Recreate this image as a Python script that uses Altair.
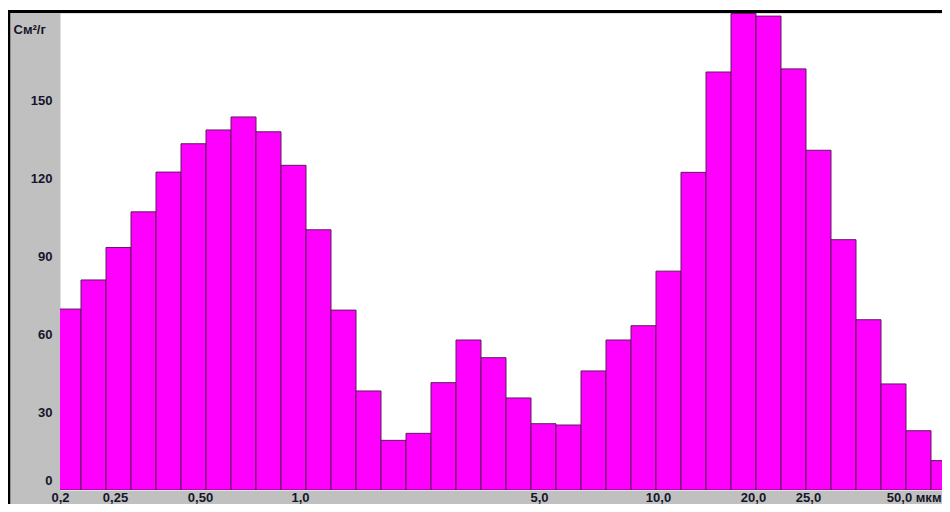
import altair as alt
import pandas as pd

# Bar heights (См²/г), one per size class, left to right
values = [69.6, 80.8, 93.3, 107.0, 122.3, 133.2, 138.5, 143.5, 137.8, 124.9, 100.1, 69.2,
          38.1, 19.1, 21.8, 41.3, 57.7, 50.9, 35.4, 25.5, 25.0, 45.8, 57.7, 63.2,
          84.2, 122.2, 160.8, 183.3, 182.3, 162.0, 130.7, 96.3, 65.5, 40.8, 22.8, 11.3]

# x-axis tick labels (particle size) and where they sit, in size-class units
x_tick_labels = ["0,2", "0,25", "0,50", "1,0", "5,0", "10,0", "20,0", "25,0", "50,0 мкм"]
x_tick_pos = [0.16, 2.36, 5.76, 9.76, 19.32, 24.08, 27.88, 30.08, 35.40]

y_tick_values = [0, 30, 60, 90, 120, 150]
y_unit = "См²/г"

df = pd.DataFrame({
    "start": list(range(len(values))),
    "end": [i + 1 for i in range(len(values))],
    "value": values,
})

label_expr = " : ".join(
    f"datum.value == {p} ? '{l}'" for p, l in zip(x_tick_pos, x_tick_labels)
) + " : ''"

FONT = "Liberation Sans"
TXT = "#15152a"
W, H = 882, 477
PB = 14
X0 = 0.16

x_axis = alt.Axis(
    values=x_tick_pos, labelExpr=label_expr, title=None, domain=False, ticks=False,
    tickSize=0, grid=False, labelPadding=1, labelFont=FONT, labelFontSize=13,
    labelFontWeight="bold", labelColor=TXT, labelOverlap=False, labelFlush=False,
    labelAlign={"condition": {"test": "datum.value > 33", "value": "right"}, "value": "center"},
)
y_axis = alt.Axis(
    values=y_tick_values, title=y_unit, titleAngle=0, titleAlign="left",
    titleBaseline="middle", titleX=-47, titleY=16, titleFont=FONT, titleFontSize=13,
    titleFontWeight="bold", titleColor=TXT, domain=False, ticks=False, tickSize=0,
    grid=False, labelPadding=8, labelFont=FONT, labelFontSize=13, labelFontWeight="bold",
    labelColor=TXT, labelBaseline="middle", labelOverlap=False, labelFlush=False,
    labelOffset={"condition": {"test": "datum.value == 0", "value": -10}, "value": 0},
)

bars = alt.Chart(df).mark_bar(
    color="#ff00ff", stroke="#5c1a5c", strokeWidth=1, clip=True
).encode(
    x=alt.X("start:Q", scale=alt.Scale(domain=[X0, X0 + W / 25], nice=False, zero=False), axis=x_axis),
    x2="end:Q",
    y=alt.Y("value:Q", scale=alt.Scale(domain=[0, 183.5], nice=False), axis=y_axis),
    y2=alt.datum(0),
)

one = pd.DataFrame({"a": [0]})
white_top = alt.Chart(one).mark_rule(color="white", strokeWidth=2).encode(
    x=alt.value(-52), x2=alt.value(W), y=alt.value(-4))
top_line = alt.Chart(one).mark_rule(color="black", strokeWidth=3).encode(
    x=alt.value(-52), x2=alt.value(W), y=alt.value(-1.5))
left_line = alt.Chart(one).mark_rule(color="black", strokeWidth=2.5).encode(
    x=alt.value(-51), y=alt.value(-3), y2=alt.value(H + PB))

chart = alt.layer(bars, white_top, top_line, left_line).properties(
    width=W, height=H,
    autosize=alt.AutoSizeParams(type="none"),
    padding={"left": 52, "top": 5, "right": 0, "bottom": PB},
    background="#c0c0c0",
).configure_view(fill="white", stroke="transparent")

chart.save("out.html", embed_options={"renderer": "svg", "actions": False})
